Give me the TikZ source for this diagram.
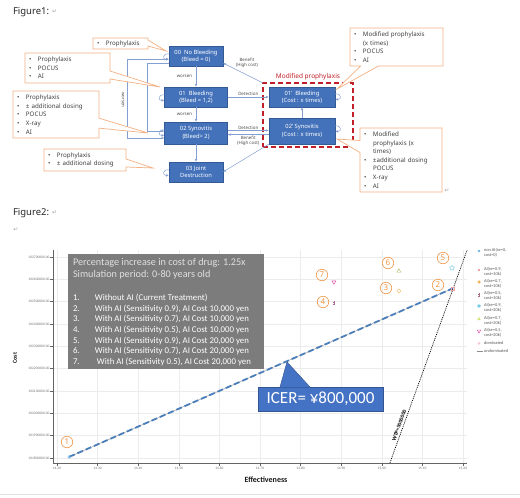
\documentclass[tikz,border=0pt]{standalone}
\usepackage{fontspec}
\usepackage{xcolor}
\usepackage{tikz}
\usetikzlibrary{arrows.meta, positioning, shapes.geometric, shapes.callouts}

\setmainfont{Noto Sans}
\newfontfamily\calfont{Carlito}
\newfontfamily\symfont{DejaVu Sans}

\definecolor{stageblue}{RGB}{68,114,186}
\definecolor{stageedge}{RGB}{52,90,150}
\definecolor{flowblue}{RGB}{132,160,210}
\definecolor{noteorange}{RGB}{244,177,131}
\definecolor{modred}{RGB}{192,30,40}
\definecolor{infogray}{RGB}{124,124,124}
\definecolor{numorange}{RGB}{240,150,70}
\definecolor{gridgray}{RGB}{236,236,236}
\definecolor{axisgray}{RGB}{100,100,100}
\definecolor{icerblue}{RGB}{68,114,196}
\definecolor{lineblue}{RGB}{74,126,187}
\definecolor{nonaiblue}{RGB}{110,180,230}
\definecolor{aipink}{RGB}{240,160,160}
\definecolor{aiorange}{RGB}{245,180,90}
\definecolor{aipurple}{RGB}{170,110,140}
\definecolor{aicyan}{RGB}{120,205,230}
\definecolor{ailime}{RGB}{215,225,120}
\definecolor{aimagenta}{RGB}{225,70,160}
\definecolor{dompink}{RGB}{248,200,210}

\newcommand{\itm}{\makebox[9pt][l]{\textbullet}}
\newcommand{\ind}{\hspace*{9pt}}
\newcommand{\lno}[1]{\makebox[22pt][l]{#1.}}

\begin{document}
\begin{tikzpicture}[
    x=1pt, y=-1pt,
    every node/.style={inner sep=0pt, outer sep=0pt},
    stage/.style={draw=stageedge, line width=0.5pt, fill=stageblue, text=white, align=center, font=\fontsize{5.8}{7.4}\selectfont},
    note/.style={rectangle callout, draw=noteorange, line width=0.7pt, fill=white, align=left, text=black!75, font=\fontsize{6.2}{8.6}\selectfont, inner xsep=4pt, anchor=north west},
    flow/.style={-{Latex[length=3pt, width=2.4pt]}, flowblue, line width=0.5pt},
    flowboth/.style={{Latex[length=3pt, width=2.4pt]}-{Latex[length=3pt, width=2.4pt]}, flowblue, line width=0.5pt},
    flowlabel/.style={font=\fontsize{4.4}{5}\selectfont, text=black!70, align=center},
    modframe/.style={draw=modred, line width=1.4pt, dash pattern=on 5pt off 3pt, minimum width=90pt, minimum height=64pt},
    figlabel/.style={font=\fontsize{9.5}{11}\selectfont, text=black!85},
    retmark/.style={font=\symfont\fontsize{6}{6}\selectfont, text=black!35},
    gridline/.style={gridgray, line width=0.4pt},
    axisline/.style={axisgray, line width=0.6pt},
    ticklabel/.style={font=\calfont\fontsize{3.6}{4}\selectfont, text=black!55},
    axistitle/.style={font=\calfont\bfseries\fontsize{8}{9}\selectfont, text=black!90},
    infobox/.style={fill=infogray, minimum width=196pt, minimum height=115pt, anchor=north west},
    infohead/.style={font=\calfont\fontsize{10.2}{12}\selectfont, text=black!12, align=left, anchor=north west},
    infolist/.style={font=\calfont\fontsize{8.8}{10.7}\selectfont, text=white, align=left, anchor=north west},
    icerbox/.style={fill=icerblue, draw=icerblue!75!black, line width=0.5pt, text=white, font=\calfont\fontsize{17}{17}\selectfont, minimum width=125pt, minimum height=24pt},
    numcircle/.style={circle, draw=numorange, line width=0.6pt, text=numorange, minimum size=11.5pt, font=\fontsize{8}{8}\selectfont},
    legtext/.style={font=\calfont\fontsize{4.4}{5}\selectfont, text=black!65, align=left, anchor=north west},
    mk/.style={line width=0.45pt, minimum size=3.5pt, inner sep=0pt},
    undomline/.style={black!35, line width=0.6pt},
    icerline/.style={lineblue, line width=1.8pt, dash pattern=on 6pt off 3pt},
    wtpline/.style={black, line width=0.7pt, dash pattern=on 1pt off 1pt},
    wtplabel/.style={font=\calfont\bfseries\fontsize{5.5}{6}\selectfont}
]

    % page
    \fill[white] (0,0) rectangle (520,498);
    \useasboundingbox (0,0) rectangle (520,498);

    % 1. Figure 1: stati
    \node[figlabel, anchor=west] (fig1) at (13,12) {Figure1:};
    \node[retmark, right=3pt of fig1] (ret1) {↵};

    \node[stage, minimum width=54pt, minimum height=20pt] (n00) at (196,56) {00\ \ No Bleeding\\(Bleed = 0)};
    \node[stage, minimum width=63pt, minimum height=20pt] (n01) at (196,97) {01\ \ Bleeding\\(Bleed = 1,2)};
    \node[stage, minimum width=63pt, minimum height=22pt] (n02) at (196,133) {02 Synovitis\\(Bleed> 2)};
    \node[stage, minimum width=54pt, minimum height=20pt] (n03) at (196,172) {03 Joint\\Destruction};
    \node[stage, minimum width=66pt, minimum height=20pt] (n01p) at (302,97) {01’\ \ Bleeding\\(Cost : x times)};
    \node[stage, minimum width=66pt, minimum height=26pt] (n02p) at (302,131) {02’ Synovitis\\(Cost : x times)};

    \node[modframe] (modbox) at (308,115) {};
    \node[font=\bfseries\fontsize{6.5}{7}\selectfont, text=modred, above=2.5pt of modbox.north] (modlabel) {Modified prophylaxis};

    % 2. transizioni
    \draw[flow] (n00) -- node[flowlabel, left=4pt] (lbw1) {worsen} (n01);
    \draw[flow] (n01) -- node[flowlabel, left=4pt] (lbw2) {worsen} (n02);
    \draw[flow] (n02) -- (n03);
    \draw[flow] (n02p) -- (n01p);

    \coordinate (wout) at (127,0);
    \coordinate (win) at (147,0);
    \draw[flowboth] (n02.west |- 0,138) -| (wout |- 0,59) -- (n00.west |- 0,59);
    \draw[flow] (n00.west |- 0,63) -| (win |- 0,131) -- (n02.west |- 0,131);
    \node[flowlabel, rotate=-90] (lbw3) at (123,100) {worsen};

    \draw[flow] (n01) -- node[flowlabel, above=1pt] (lbdet1) {Detection} (n01p);
    \draw[flow] (n02.east |- 0,130.5) -- node[flowlabel, above=0.8pt] (lbdet2) {Detection} (n02p.west |- 0,130.5);
    \draw[flow] (n02p.west |- 0,134.5) -- node[flowlabel, below=1.5pt] (lbben2) {Benefit\\(High cost)} (n02.east |- 0,134.5);
    \draw[flow] (modbox.north west) -- (n00.east |- 0,63);
    \node[flowlabel] (lbben1) at (247,63) {Benefit\\(High cost)};
    \draw[flow] (n02p.south west) -- (n03.east |- 0,172);

    % anelli
    \draw[flow] ([yshift=2pt]n00.west) to[out=170, in=190, looseness=3.5] ([yshift=-3pt]n00.west);
    \draw[flow] ([yshift=2pt]n01.west) to[out=170, in=190, looseness=3.5] ([yshift=-3pt]n01.west);
    \draw[flow] ([yshift=3pt]n02.west) to[out=170, in=190, looseness=3.5] ([yshift=-2pt]n02.west);
    \draw[flow] ([yshift=2pt]n03.west) to[out=170, in=190, looseness=3.5] ([yshift=-3pt]n03.west);
    \draw[flow] ([yshift=3pt]n01p.east) to[out=10, in=-10, looseness=3.5] ([yshift=-2pt]n01p.east);
    \draw[flow] ([yshift=5pt]n02p.east) to[out=10, in=-10, looseness=3.5] ([yshift=0pt]n02p.east);

    % 3. richiami
    \node[note, text width=47pt, minimum height=11pt, callout pointer width=6pt, callout absolute pointer={(166,51)}] (note00) at (93,38) {\itm Prophylaxis};
    \node[note, text width=77pt, minimum height=30pt, callout pointer width=8pt, callout absolute pointer={(160,87)}] (note01) at (25,53) {\itm Prophylaxis\\\itm POCUS\\\itm AI};
    \node[note, text width=78pt, minimum height=47pt, callout pointer width=10pt, callout absolute pointer={(148,133)}] (note02) at (13,91) {\itm Prophylaxis\\\itm ± additional dosing\\\itm POCUS\\\itm X-ray\\\itm AI};
    \node[note, text width=74pt, minimum height=22pt, callout pointer width=8pt, callout absolute pointer={(153,168)}] (note03) at (44,149) {\itm Prophylaxis\\\itm ± additional dosing};
    \node[note, text width=85pt, minimum height=38pt, callout pointer width=18pt, callout absolute pointer={(337,89)}] (note01p) at (350,28) {\itm Modified prophylaxis\\\ind (x times)\\\itm POCUS\\\itm AI};
    \node[note, text width=74pt, minimum height=64pt, callout pointer width=12pt, callout absolute pointer={(337,139)}] (note02p) at (360,128) {\itm Modified\\\ind prophylaxis (x\\\ind times)\\\itm ±additional dosing\\\ind POCUS\\\itm X-ray\\\itm AI};
    \node[retmark] (ret2) at (447,191) {↵};

    % 4. Figure 2: grafico
    \node[figlabel, anchor=west] (fig2) at (13,213) {Figure2:};
    \node[retmark, right=3pt of fig2] (ret3) {↵};
    \node[retmark] (ret4) at (16,230) {↵};

    \begin{scope}[shift={(57,458)}, x=40.6pt, y=22.33pt]
        \foreach \i in {0,...,10}
            \draw[gridline] (\i,-0.22) -- (\i,9.31);
        \foreach \j in {0,...,9}
            \draw[gridline] (-0.1,\j) -- (10.1,\j);
        \draw[axisline] (-0.1,9.31) -- (-0.1,-0.22) -- (10.1,-0.22);
        \foreach \j [evaluate=\j as \v using int(1018+\j)] in {0,...,9}
            \draw[axisline] (-0.1,\j) -- ++(-3pt,0pt) node[ticklabel, anchor=east, xshift=-0.5pt] (ytick\j) {\v00000.00};
        \foreach \t [count=\i from 0] in {14.20,14.30,14.40,14.50,14.60,14.70,14.80,14.90,15.00,15.10,15.20}
            \draw[axisline] (\i,-0.22) -- ++(0pt,-3pt) node[ticklabel, anchor=north, yshift=-1.5pt] (xtick\i) {\t};

        % punti
        \coordinate (p1) at (0.3,0.05);
        \coordinate (p2) at (9.75,7.6);
        \coordinate (p3) at (8.42,7.48);
        \coordinate (p4) at (6.82,6.94);
        \coordinate (p5) at (9.73,8.51);
        \coordinate (p6) at (8.42,8.37);
        \coordinate (p7) at (6.82,7.88);

        \draw[undomline] (p1) -- (p2);
        \draw[icerline] (p1) -- (p2);
        \draw[wtpline] (8.2,-0.22) -- node[wtplabel, sloped, above=2.2pt, pos=0.17] (wtp) {WTP=5000000} (10.1,9.31);

        \node[mk, circle, draw=nonaiblue, minimum size=3pt] (m1) at (p1) {};
        \node[mk, rectangle, draw=aipink, minimum size=3pt] (m2) at (p2) {};
        \node[mk, diamond, draw=aiorange, minimum size=4pt] (m3) at (p3) {};
        \draw[aipurple, line width=0.5pt] ([yshift=2.2pt]p4) -- ([yshift=-2.2pt]p4)
            ([xshift=-1pt, yshift=0.8pt]p4) -- ([xshift=1pt, yshift=0.8pt]p4)
            ([xshift=-1pt, yshift=-0.8pt]p4) -- ([xshift=1pt, yshift=-0.8pt]p4);
        \node[mk, star, star points=5, draw=aicyan, minimum size=5pt] (m5) at (p5) {};
        \node[mk, regular polygon, regular polygon sides=3, draw=ailime!80!black, minimum size=4.5pt] (m6) at (p6) {};
        \node[mk, regular polygon, regular polygon sides=3, shape border rotate=180, draw=aimagenta, minimum size=4.5pt] (m7) at (p7) {};
    \end{scope}

    \node[numcircle] (num1) at (67,442) {1};
    \node[numcircle] (num2) at (438,285) {2};
    \node[numcircle] (num3) at (386,288) {3};
    \node[numcircle] (num4) at (323,302) {4};
    \node[numcircle] (num5) at (443,258) {5};
    \node[numcircle] (num6) at (388,263) {6};
    \node[numcircle] (num7) at (322,275) {7};

    \node[axistitle, font=\calfont\bfseries\fontsize{6}{7}\selectfont, rotate=90] (ytitle) at (15,358) {Cost};
    \node[axistitle] (xtitle) at (266,480) {Effectiveness};

    % 5. riquadro grigio
    \node[infobox] (info) at (68,254) {};
    \node[infohead] (infohd) at ([xshift=5pt, yshift=-4.5pt]info.north west) {Percentage increase in cost of drug: 1.25x\\Simulation period: 0-80 years old};
    \node[infolist] (infols) at ([xshift=5pt, yshift=-40pt]info.north west) {\lno{1}Without AI (Current Treatment)\\
        \lno{2}With AI (Sensitivity 0.9), AI Cost 10,000 yen\\
        \lno{3}With AI (Sensitivity 0.7), AI Cost 10,000 yen\\
        \lno{4}With AI (Sensitivity 0.5), AI Cost 10,000 yen\\
        \lno{5}With AI (Sensitivity 0.9), AI Cost 20,000 yen\\
        \lno{6}With AI (Sensitivity 0.7), AI Cost 20,000 yen\\
        \lno{7}\ With AI (Sensitivity 0.5), AI Cost 20,000 yen};

    % 6. ICER
    \node[icerbox] (icer) at (320.5,399) {ICER= ¥800,000};
    \coordinate (icertip) at (287,362);
    \fill[icerblue] ([xshift=-40.5pt, yshift=-0.3pt]icer.north) -- (icertip) -- ([xshift=-10.5pt, yshift=-0.3pt]icer.north) -- cycle;
    \draw[icerblue!75!black, line width=0.5pt] ([xshift=-40.5pt]icer.north) -- (icertip) -- ([xshift=-10.5pt]icer.north);

    % 7. legenda
    \foreach \ly/\lt [count=\k] in {251/{non AI(se=0,\\cost=0)}, 269.3/{AI(se=0.9,\\cost=10k)}, 281.7/{AI(se=0.7,\\cost=10k)}, 294/{AI(se=0.5,\\cost=10k)}, 306/{AI(se=0.9,\\cost=20k)}, 318.3/{AI(se=0.7,\\cost=20k)}, 330.3/{AI(se=0.5,\\cost=20k)}, 343.3/{dominated}, 351.7/{undominated}}
        \node[legtext] (leg\k) at (484,\ly-2.3) {\lt};

    \node[mk, circle, fill=nonaiblue, minimum size=2.6pt] (lm1) at (479,251) {};
    \node[mk, rectangle, fill=aipink, minimum size=2.6pt] (lm2) at (479,270) {};
    \node[mk, diamond, fill=aiorange, minimum size=3.5pt] (lm3) at (479,282) {};
    \draw[aipurple, line width=0.45pt] (479,292.8) -- (479,297.2) (478.2,294.2) -- (479.8,294.2) (478.2,295.8) -- (479.8,295.8);
    \node[mk, star, star points=5, fill=aicyan, minimum size=4pt] (lm5) at (479,306) {};
    \node[mk, regular polygon, regular polygon sides=3, fill=ailime, minimum size=4pt] (lm6) at (479,319) {};
    \node[mk, regular polygon, regular polygon sides=3, shape border rotate=180, draw=aimagenta, minimum size=4pt] (lm7) at (479,331) {};
    \node[mk, circle, fill=dompink, minimum size=3pt] (lm8) at (479,343.3) {};
    \draw[black!45, line width=0.5pt] (476.5,351.7) -- (482.5,351.7);

    \draw[black!12, line width=0.4pt] (0,494) -- (520,494);

\end{tikzpicture}
\end{document}
